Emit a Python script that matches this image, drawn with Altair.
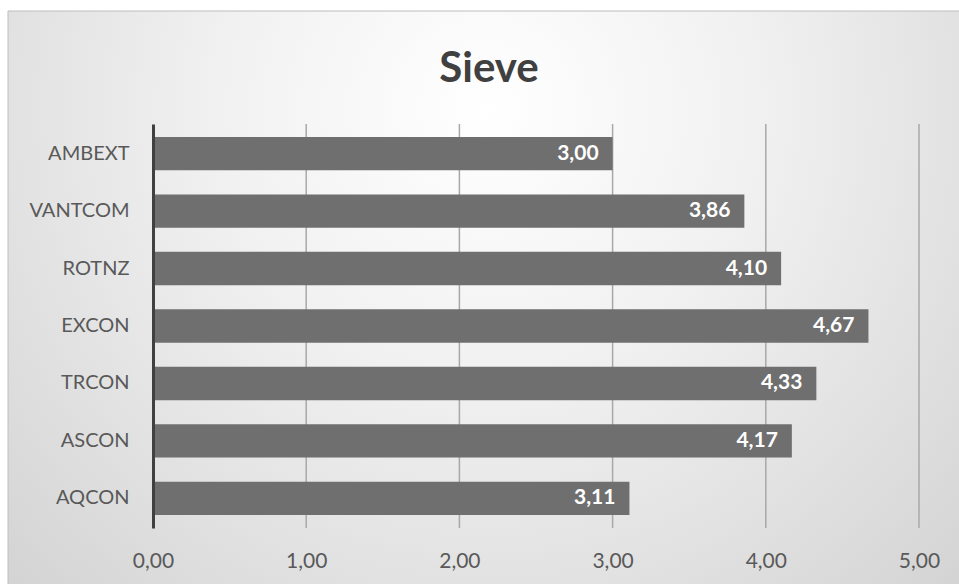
import altair as alt
import pandas as pd

# Sieve scores per construct (top to bottom)
categories = ["AMBEXT", "VANTCOM", "ROTNZ", "EXCON", "TRCON", "ASCON", "AQCON"]
scores = [3.00, 3.86, 4.10, 4.67, 4.33, 4.17, 3.11]
grid_ticks = [1, 2, 3, 4, 5]
axis_ticks = [0, 1, 2, 3, 4, 5]

df = pd.DataFrame({"construct": categories, "score": scores})
grid_df = pd.DataFrame({"score": grid_ticks})
bg_df = pd.DataFrame({"k": [0]})

FONT = "Lato"
W, H = 766, 404
PAD = {"left": 153, "top": 124, "right": 40, "bottom": 56}

x_scale = alt.Scale(domain=[0, 5], nice=False)
y_scale = alt.Scale(domain=categories, paddingInner=0.42, paddingOuter=0.225)

x_axis = alt.Axis(
    title=None,
    values=axis_ticks,
    grid=False,
    domain=False,
    ticks=False,
    labelFlush=False,
    labelExpr="replace(format(datum.value, '.2f'), '.', ',')",
    labelFont=FONT,
    labelFontSize=21,
    labelColor="#595959",
    labelPadding=22,
    zindex=1,
)

# Soft radial backdrop behind the whole chart
backdrop = alt.Chart(bg_df).mark_rect(
    fill=alt.RadialGradient(
        gradient="radial",
        x1=0.5, y1=0.3, r1=0.0,
        x2=0.5, y2=0.3, r2=0.8,
        stops=[
            alt.GradientStop(offset=0.0, color="#ffffff"),
            alt.GradientStop(offset=0.35, color="#f1f1f1"),
            alt.GradientStop(offset=1.0, color="#cdcdcd"),
        ],
    ),
    stroke="#bdbdbd",
    strokeWidth=1,
).encode(
    x=alt.value(8 - PAD["left"]),
    x2=alt.value(W + PAD["right"] + 5),
    y=alt.value(11 - PAD["top"]),
    y2=alt.value(H + PAD["bottom"] + 5),
)

grid = alt.Chart(grid_df).mark_rule(color="#a8a8a8", strokeWidth=1.5).encode(
    x=alt.X("score:Q", scale=x_scale, axis=x_axis)
)

bars = alt.Chart(df).mark_bar(color="#6f6f6f").encode(
    x=alt.X("score:Q", scale=x_scale, axis=x_axis),
    y=alt.Y(
        "construct:N",
        scale=y_scale,
        sort=categories,
        axis=alt.Axis(
            title=None,
            ticks=False,
            grid=False,
            domainColor="#404040",
            domainWidth=3,
            labelFont=FONT,
            labelFontSize=20,
            labelColor="#595959",
            labelPadding=24,
            zindex=1,
        ),
    ),
)

labels = alt.Chart(df).transform_calculate(
    txt="replace(format(datum.score, '.2f'), '.', ',')"
).mark_text(
    align="right",
    baseline="middle",
    dx=-14,
    font=FONT,
    fontSize=21,
    fontWeight="bold",
    color="#ffffff",
).encode(
    x=alt.X("score:Q", scale=x_scale, axis=x_axis),
    y=alt.Y("construct:N", scale=y_scale, sort=categories),
    text="txt:N",
)

chart = alt.layer(backdrop, grid, bars, labels).properties(
    width=W,
    height=H,
    autosize=alt.AutoSizeParams(type="none"),
    padding=PAD,
    background="#ffffff",
    title=alt.TitleParams(
        text="Sieve",
        font=FONT,
        fontSize=42,
        fontWeight="bold",
        color="#404040",
        anchor="middle",
        baseline="alphabetic",
        offset=0,
        dy=113,
        dx=-47,
    ),
).configure_view(stroke=None)

chart.save("out.html", embed_options={"renderer": "svg", "actions": False})
